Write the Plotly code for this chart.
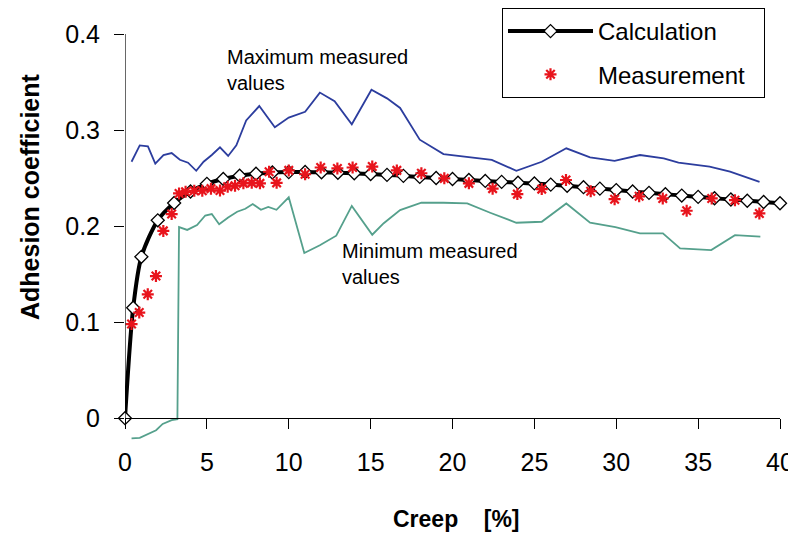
import plotly.graph_objects as go

FONT = "Liberation Sans, Arial, sans-serif"

# Calculation curve
calc_x = [0, 0.5, 1, 2, 3, 4, 5, 6, 7, 8, 9, 10, 11, 12, 13, 14, 15, 16, 17, 18, 19, 20,
          21, 22, 23, 24, 25, 26, 27, 28, 29, 30, 31, 32, 33, 34, 35, 36, 37, 38, 39, 40]
calc_y = [0, 0.115, 0.168, 0.206, 0.224, 0.236, 0.244, 0.249, 0.2525, 0.2545, 0.2558, 0.2562,
          0.2563, 0.256, 0.2555, 0.255, 0.2542, 0.2533, 0.2523, 0.2512, 0.2501, 0.249,
          0.248, 0.247, 0.246, 0.2452, 0.2444, 0.2432, 0.242, 0.2405, 0.239, 0.2375, 0.236,
          0.2346, 0.2332, 0.2318, 0.2304, 0.229, 0.2277, 0.2264, 0.2251, 0.2238]

# Measurements
meas_x = [0.4, 0.87, 1.39, 1.89, 2.34, 2.85, 3.3, 3.7, 4.23, 4.72, 5.25, 5.8, 6.27, 6.72, 7.23,
          7.74, 8.24, 8.8, 9.26, 10.0, 11.0, 11.95, 12.97, 13.9, 15.1, 16.6, 18.1, 19.5, 21.0,
          22.45, 23.96, 25.45, 26.93, 28.44, 29.9, 31.4, 32.84, 34.3, 35.83, 37.25, 38.74]
meas_y = [0.098, 0.110, 0.129, 0.148, 0.195, 0.2125, 0.234, 0.2357, 0.2368, 0.2368, 0.239, 0.237,
          0.241, 0.242, 0.2445, 0.245, 0.2445, 0.2566, 0.245, 0.258, 0.254, 0.261, 0.260, 0.261,
          0.262, 0.258, 0.255, 0.2497, 0.2445, 0.239, 0.2333, 0.2385, 0.248, 0.2363, 0.228, 0.231,
          0.2288, 0.216, 0.2288, 0.227, 0.2132]

# Maximum measured values
max_x = [0.4, 0.9, 1.4, 1.85, 2.35, 2.85, 3.35, 3.85, 4.35, 4.8, 5.3, 5.8, 6.3, 6.8, 7.4, 8.2,
         9.15, 10.0, 11.0, 11.9, 12.8, 13.85, 15.05, 16.0, 16.8, 18.0, 19.45, 20.9, 22.4, 23.9,
         25.45, 26.95, 28.4, 29.9, 31.45, 32.9, 33.8, 35.7, 36.95, 38.75]
max_y = [0.267, 0.284, 0.283, 0.265, 0.274, 0.276, 0.269, 0.266, 0.2576, 0.267, 0.274, 0.282,
         0.273, 0.284, 0.31, 0.325, 0.303, 0.313, 0.319, 0.339, 0.33, 0.306, 0.342, 0.333, 0.323,
         0.290, 0.275, 0.272, 0.269, 0.2576, 0.267, 0.281, 0.2715, 0.268, 0.274, 0.2705, 0.266,
         0.262, 0.2566, 0.246]

# Minimum measured values
min_x = [0.4, 0.9, 1.9, 2.3, 2.85, 3.2, 3.3, 3.8, 4.4, 4.9, 5.3, 5.75, 6.3, 6.85, 7.35, 7.8,
         8.3, 8.75, 9.25, 10.0, 10.95, 11.9, 12.9, 13.85, 15.1, 15.8, 16.8, 18.1, 19.45, 20.9,
         22.3, 23.9, 25.45, 26.95, 28.4, 29.95, 31.45, 32.85, 33.9, 35.8, 37.25, 38.8]
min_y = [-0.021, -0.0205, -0.0125, -0.006, -0.002, -0.001, 0.199, 0.196, 0.201, 0.211, 0.2125,
         0.202, 0.209, 0.215, 0.218, 0.223, 0.217, 0.220, 0.217, 0.23, 0.172, 0.18, 0.19, 0.221,
         0.191, 0.203, 0.2167, 0.2243, 0.2243, 0.2236, 0.2139, 0.2035, 0.2045, 0.2236, 0.2035,
         0.199, 0.1924, 0.1924, 0.1767, 0.175, 0.1906, 0.189]

x_ticks = [0, 5, 10, 15, 20, 25, 30, 35, 40]
y_ticks = [0, 0.1, 0.2, 0.3, 0.4]
y_tick_text = ["0", "0.1", "0.2", "0.3", "0.4"]

Y_LOW = -0.03
Y_TOP = 0.4
frac = -Y_LOW / (Y_TOP - Y_LOW)

# the page adds an 8px body margin, so the figure is 8px smaller than the window
W, H = 788, 528
L, R, T, B = 117, 16, 26, 89
PW, PH = W - L - R, H - T - B


def px_to_paper(px, py):
    """page pixel -> paper coords (page has 8px offset)"""
    lx, ly = px - 8, py - 8
    return (lx - L) / PW, (H - B - ly) / PH


fig = go.Figure()

fig.add_trace(go.Scatter(x=max_x, y=max_y, mode="lines",
                         line=dict(color="#2c3d9e", width=1.8), showlegend=False))
fig.add_trace(go.Scatter(x=min_x, y=min_y, mode="lines",
                         line=dict(color="#55a08c", width=1.8), showlegend=False))
fig.add_trace(go.Scatter(x=calc_x, y=calc_y, mode="lines+markers", name="Calculation",
                         legendgroup="a",
                         line=dict(color="black", width=4, shape="spline", smoothing=0.8),
                         marker=dict(symbol="diamond", size=10, color="white",
                                     line=dict(color="black", width=1.3)),
                         cliponaxis=False))
fig.add_trace(go.Scatter(x=meas_x, y=meas_y, mode="markers", name="Measurement\u00a0\u00a0",
                         legendgroup="b",
                         marker=dict(symbol="asterisk-open", size=10, color="#e8141c",
                                     line=dict(color="#e8141c", width=2.2)),
                         cliponaxis=False))

# y axis line (only from 0 up to 0.4)
fig.add_shape(type="line", xref="x", yref="y", x0=0, x1=0, y0=0, y1=Y_TOP,
              line=dict(color="black", width=1.2), layer="above")

fig.add_annotation(x=6.1, y=0.39, xref="x", yref="y", text="Maximum measured<br>values",
                   showarrow=False, xanchor="left", yanchor="top", align="left",
                   font=dict(family=FONT, size=20, color="black"))
fig.add_annotation(x=13.1, y=0.188, xref="x", yref="y", text="Minimum measured<br>values",
                   showarrow=False, xanchor="left", yanchor="top", align="left",
                   font=dict(family=FONT, size=20, color="black"))

# axis titles
tx, ty = px_to_paper(30, 197)
fig.add_annotation(x=tx, y=ty, xref="paper", yref="paper",
                   text="<b>Adhesion coefficient</b>", textangle=-90, showarrow=False,
                   xanchor="center", yanchor="middle",
                   font=dict(family=FONT, size=25, color="black"))
cx, cy = px_to_paper(456, 519)
fig.add_annotation(x=cx, y=cy, xref="paper", yref="paper",
                   text="<b>Creep\u00a0\u00a0\u00a0\u00a0[%]</b>", showarrow=False,
                   xanchor="center", yanchor="middle",
                   font=dict(family=FONT, size=23, color="black"))

fig.update_layout(
    width=W, height=H,
    margin=dict(l=L, r=R, t=T, b=B, autoexpand=False),
    paper_bgcolor="white", plot_bgcolor="white",
    font=dict(family=FONT, color="black"),
    showlegend=True,
    legend=dict(x=(502 - 8) / W, y=1.0, xref="container", yref="container",
                xanchor="left", yanchor="top",
                bordercolor="black", borderwidth=1, bgcolor="white",
                font=dict(family=FONT, size=24, color="black"),
                tracegroupgap=9, itemwidth=85),
    xaxis=dict(range=[0, 40], anchor="free", position=frac, domain=[0, 1], tickvals=x_ticks,
               showline=True, linecolor="black", linewidth=1.2, ticks="outside",
               ticklen=10, tickcolor="black", showgrid=False, zeroline=False,
               automargin=False, ticklabelstandoff=12,
               tickfont=dict(family=FONT, size=25, color="black")),
    yaxis=dict(range=[Y_LOW, Y_TOP], domain=[0, 1], tickvals=y_ticks,
               ticktext=y_tick_text, showline=False,
               ticks="outside", ticklen=10, tickcolor="black", showgrid=False,
               zeroline=False, automargin=False, ticklabelstandoff=9,
               tickfont=dict(family=FONT, size=25, color="black")),
)

fig.write_html("out.html")
